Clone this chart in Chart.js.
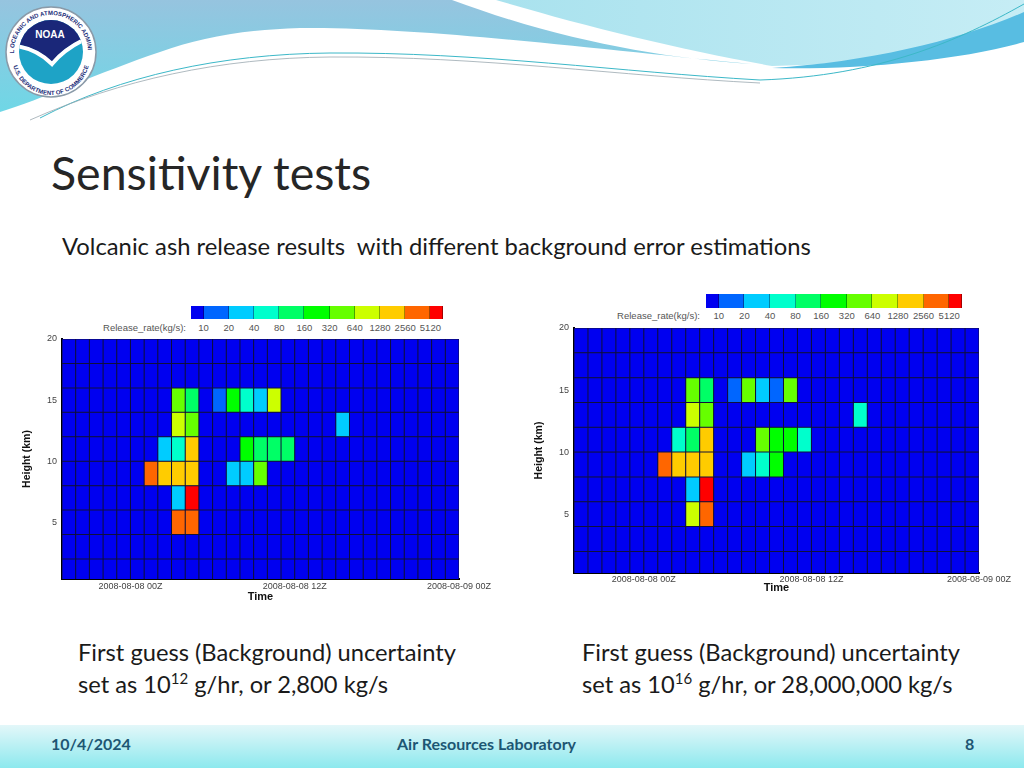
<!DOCTYPE html>
<html lang="en">
<head>
  <meta charset="UTF-8">
  <title>Sensitivity tests</title>
  <script src="https://cdn.jsdelivr.net/npm/chart.js"></script>
  <style>
    body { margin: 0; background: #fff; }
    .slide { position: relative; width: 1024px; height: 768px; overflow: hidden; background: #fff; font-family: Lato, "Open Sans", sans-serif; color: #1a1a1a; }
    .abs { position: absolute; white-space: nowrap; }
    h1 { position: absolute; left: 51px; top: 145px; margin: 0; font-weight: normal; font-size: 46.5px; line-height: 1.2; color: #262626; }
    .sub { left: 62px; top: 232px; font-size: 23.8px; line-height: 1.2; }
    .cap { font-size: 23.7px; line-height: 31.6px; }
    .cap sup { font-size: 15px; line-height: 0; vertical-align: 9px; }
    .cbar { position: absolute; font-family: "Liberation Sans", Arial, sans-serif; font-size: 9.5px; color: #555; }
    .cbar .seg { position: absolute; top: 0; height: 100%; box-sizing: border-box; border-right: 1px solid rgba(0,0,0,0.35); }
    .cbar .lab { position: absolute; transform: translateX(-50%); }
    canvas { position: absolute; }
    .footer { position: absolute; left: 0; top: 725px; width: 1024px; height: 43px; background: linear-gradient(#e3f7f9, #8de9ee); }
    .footer span { position: absolute; top: 9px; font-family: Lato, sans-serif; font-weight: bold; font-size: 16px; color: #1d5673; }
  </style>
</head>
<body>
<div class="slide">

  <svg class="abs" style="left:0;top:0" width="1024" height="130">
    <defs>
      <linearGradient id="gBlue" x1="0" y1="0" x2="0" y2="1">
        <stop offset="0" stop-color="#96c4df"/>
        <stop offset="1" stop-color="#6fd7e6"/>
      </linearGradient>
      <linearGradient id="gCyan" x1="0" y1="0" x2="1" y2="0">
        <stop offset="0" stop-color="#a9e2ee"/>
        <stop offset="1" stop-color="#c6edf5"/>
      </linearGradient>
      <clipPath id="inner"><circle cx="51" cy="52" r="32"/></clipPath>
      <path id="ringTop" d="M14,52 A37,37 0 0 1 88,52"/>
      <path id="ringBot" d="M12,56 A39,39 0 0 0 90,56"/>
    </defs>
    <path d="M0,0 H452 C560,40 660,58 752,64 C620,52 420,26 300,28 C240,30 200,38 160,52 C100,72 40,100 0,112 Z" fill="url(#gBlue)"/>
    <path d="M496,0 H1024 V40 C960,54 860,64 772,66 C680,50 580,25 496,0 Z" fill="url(#gCyan)"/>
    <path d="M772,68 C870,62 960,40 1024,12 V42 C960,60 860,70 772,68 Z" fill="#58bde2"/>
    <path d="M40,118 C120,76 220,54 330,53 C480,52 620,72 760,80 C880,76 960,40 1024,4" fill="none" stroke="#3cb8c8" stroke-width="1"/>
    <path d="M30,120 C120,80 220,58 330,57 C480,56 620,76 760,83" fill="none" stroke="#9aa8b0" stroke-width="0.8"/>
    <circle cx="51" cy="52" r="45" fill="#fff" stroke="#8a9aa8" stroke-width="1.5"/>
    <text font-family="Liberation Sans" font-size="6" font-weight="bold" fill="#1d2f7a"><textPath href="#ringTop" startOffset="50%" text-anchor="middle">NATIONAL OCEANIC AND ATMOSPHERIC ADMINISTRATION</textPath></text>
    <text font-family="Liberation Sans" font-size="6" font-weight="bold" fill="#1d2f7a"><textPath href="#ringBot" startOffset="50%" text-anchor="middle">U.S. DEPARTMENT OF COMMERCE</textPath></text>
    <g clip-path="url(#inner)">
      <rect x="15" y="15" width="75" height="75" fill="#1ea3c6"/>
      <path d="M15,15 H90 V36 C74,42 62,50 52,62 C42,52 30,46 15,44 Z" fill="#1a2779"/>
      <path d="M16,46 C30,48 42,54 52,64 C62,52 72,45 88,38" fill="none" stroke="#fff" stroke-width="4"/>
    </g>
    <text x="50" y="38" text-anchor="middle" font-family="Liberation Sans" font-weight="bold" font-size="10" fill="#fff">NOAA</text>
  </svg>

  <h1>Sensitivity tests</h1>
  <div class="abs sub">Volcanic ash release results&nbsp; with different background error estimations</div>

  <div class="cbar" id="cbarL"></div>
  <div class="cbar" id="cbarR"></div>

  <canvas id="chartL" width="480" height="309" style="left:20px;top:296px"></canvas>
  <canvas id="chartR" width="490" height="310" style="left:532px;top:286px"></canvas>

  <div class="abs cap" style="left:78px;top:637px">First guess (Background) uncertainty<br>set as 10<sup>12</sup> g/hr, or 2,800 kg/s</div>
  <div class="abs cap" style="left:582px;top:637px">First guess (Background) uncertainty<br>set as 10<sup>16</sup> g/hr, or 28,000,000 kg/s</div>

  <div class="footer">
    <span style="left:51px">10/4/2024</span>
    <span style="left:397px">Air Resources Laboratory</span>
    <span style="left:965px">8</span>
  </div>
</div>

<script>
// grid: one column per hour, one row per 2 km layer
const hours = [-5, -4, -3, -2, -1, 0, 1, 2, 3, 4, 5, 6, 7, 8, 9, 10, 11, 12, 13, 14, 15, 16, 17, 18, 19, 20, 21, 22, 23];
const heightBands = [0, 2, 4, 6, 8, 10, 12, 14, 16, 18];
const timeTicks = [0, 12, 24];
const timeLabels = ["2008-08-08 00Z", "2008-08-08 12Z", "2008-08-09 00Z"];
const heightTicks = [5, 10, 15, 20];

// colour scale
const rateBreaks = [10, 20, 40, 80, 160, 320, 640, 1280, 2560, 5120];
const rateColors = ["#0000f0", "#0066ff", "#00ccff", "#00ffcc", "#00ff66", "#00ff00",
                    "#66ff00", "#ccff00", "#ffcc00", "#ff6600", "#ff0000"];

// left panel: non-zero release cells (hour, layer base km, kg/s)
const hourL = [3, 4, 6, 7, 8, 9, 10,  3, 4, 15,  2, 3, 4, 8, 9, 10, 11,  1, 2, 3, 4, 7, 8, 9,  3, 4,  3, 4];
const baseL = [14, 14, 14, 14, 14, 14, 14,  12, 12, 12,  10, 10, 10, 10, 10, 10, 10,  8, 8, 8, 8, 8, 8, 8,  6, 6,  4, 4];
const rateL = [480, 120, 15, 240, 60, 30, 960,  960, 480, 30,  30, 60, 1900, 240, 120, 120, 120,  3800, 1900, 1900, 1900, 30, 30, 480,  30, 6000,  3800, 3800];

// right panel
const hourR = [3, 4, 6, 7, 8, 9, 10,  3, 4, 15,  2, 3, 4, 8, 9, 10, 11,  1, 2, 3, 4, 7, 8, 9,  3, 4,  3, 4];
const baseR = [14, 14, 14, 14, 14, 14, 14,  12, 12, 12,  10, 10, 10, 10, 10, 10, 10,  8, 8, 8, 8, 8, 8, 8,  6, 6,  4, 4];
const rateR = [480, 120, 15, 480, 30, 15, 480,  960, 480, 60,  60, 120, 1900, 480, 240, 240, 60,  3800, 1900, 1900, 1900, 30, 60, 240,  30, 6000,  960, 3800];

const FONT = "'Liberation Sans', Arial, sans-serif";

function colorFor(rate) {
  let i = 0;
  while (i < rateBreaks.length && rate >= rateBreaks[i]) i++;
  return rateColors[i];
}

function rateAt(hs, bs, rs, h, b) {
  for (let i = 0; i < hs.length; i++) {
    if (hs[i] === h && bs[i] === b) return rs[i];
  }
  return 0;
}

// dark fill under the cells so the gaps read as thin grid lines
const cellGrid = {
  id: "cellGrid",
  beforeDatasetsDraw(chart) {
    const a = chart.chartArea;
    chart.ctx.save();
    chart.ctx.fillStyle = "#10103c";
    chart.ctx.fillRect(a.left, a.top, a.right - a.left, a.bottom - a.top);
    chart.ctx.restore();
  }
};

function buildDatasets(hs, bs, rs) {
  return heightBands.map(b => ({
    data: hours.map(h => ({ x: h + 0.5, y: [b, b + 2] })),
    backgroundColor: hours.map(h => colorFor(rateAt(hs, bs, rs, h, b))),
    borderColor: "#10103c",
    borderWidth: 0.5,
    borderSkipped: false,
    inflateAmount: 0,
    grouped: false,
    barPercentage: 1,
    categoryPercentage: 1,
    clip: 0
  }));
}

function makeChart(id, hs, bs, rs, g) {
  return new Chart(document.getElementById(id), {
    type: "bar",
    data: { datasets: buildDatasets(hs, bs, rs) },
    plugins: [cellGrid],
    options: {
      responsive: false,
      animation: false,
      layout: { padding: { top: g.padTop, right: g.padRight, left: 0, bottom: 0 } },
      plugins: { legend: { display: false }, tooltip: { enabled: false } },
      scales: {
        x: {
          type: "linear", min: -5, max: 24, offset: false, z: 1,
          grid: { display: false, drawTicks: false, offset: false },
          border: { display: true, color: "#000", width: 2 },
          afterBuildTicks: s => { s.ticks = timeTicks.map(v => ({ value: v })); },
          afterFit: s => { s.height = g.xAxisH; },
          ticks: { color: "#444", font: { family: FONT, size: 9 }, padding: g.xPad, maxRotation: 0, autoSkip: false,
                   callback: (v, i) => timeLabels[i] },
          title: { display: true, text: "Time", color: "#111", font: { family: FONT, size: 11, weight: "bold" }, padding: { top: 0, bottom: 1 } }
        },
        y: {
          min: g.yMin, max: 20, z: 1,
          grid: { display: false, drawTicks: false },
          border: { display: true, color: "#000", width: 2 },
          afterBuildTicks: s => { s.ticks = heightTicks.map(v => ({ value: v })); },
          afterFit: s => { s.width = 42; },
          ticks: { color: "#444", font: { family: FONT, size: 9 }, padding: 5 },
          title: { display: true, text: "Height (km)", color: "#111", font: { family: FONT, size: 10.5, weight: "bold" }, padding: { top: 1, bottom: 0 } }
        }
      }
    }
  });
}

function buildColorbar(id, g) {
  const el = document.getElementById(id);
  el.style.left = g.left + "px";
  el.style.top = g.top + "px";
  el.style.width = g.width + "px";
  el.style.height = g.height + "px";
  const unit = g.width / rateBreaks.length;
  rateColors.forEach((c, i) => {
    const seg = document.createElement("div");
    seg.className = "seg";
    const x0 = i === 0 ? 0 : unit / 2 + (i - 1) * unit;
    const x1 = i === rateColors.length - 1 ? g.width : unit / 2 + i * unit;
    seg.style.left = x0 + "px";
    seg.style.width = (x1 - x0) + "px";
    seg.style.background = c;
    el.appendChild(seg);
  });
  rateBreaks.forEach((v, i) => {
    const lab = document.createElement("div");
    lab.className = "lab";
    lab.textContent = v;
    lab.style.left = (unit / 2 + i * unit) + "px";
    lab.style.top = g.labTop + "px";
    el.appendChild(lab);
  });
  const cap = document.createElement("div");
  cap.textContent = "Release_rate(kg/s):";
  cap.style.position = "absolute";
  cap.style.right = (g.width + g.capGap) + "px";
  cap.style.top = g.labTop + "px";
  cap.style.whiteSpace = "nowrap";
  el.appendChild(cap);
}

buildColorbar("cbarL", { left: 191, top: 306, width: 252, height: 13, labTop: 16, capGap: 5 });
buildColorbar("cbarR", { left: 706, top: 294, width: 256, height: 14, labTop: 16, capGap: 6 });

makeChart("chartL", hourL, baseL, rateL, { padTop: 43, padRight: 41, xAxisH: 26, xPad: 2, yMin: 0.36 });
makeChart("chartR", hourR, baseR, rateR, { padTop: 42, padRight: 43, xAxisH: 23, xPad: 1, yMin: 0.26 });
</script>
</body>
</html>
